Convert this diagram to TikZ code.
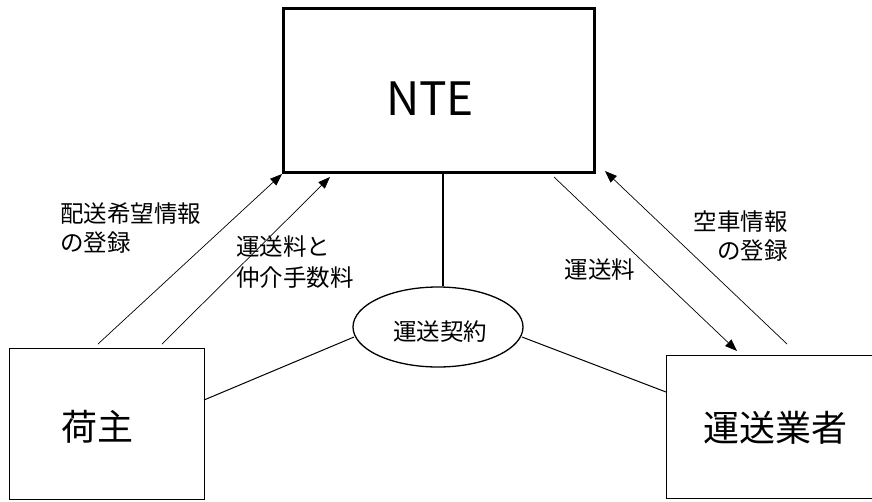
\documentclass[tikz,border=0pt]{standalone}
\usepackage{fontspec}
\setmainfont{Noto Sans CJK JP}
\usetikzlibrary{arrows.meta,shapes.geometric}
\begin{document}
\begin{tikzpicture}[x=1pt,y=-1pt,
  box/.style={draw,line width=1.3pt,inner sep=0pt,anchor=north west},
  flow/.style={line width=0.7pt,-{Triangle[length=12pt,width=9pt]}},
  link/.style={line width=1pt},
  lbl/.style={inner sep=0pt,font=\fontsize{23.5pt}{29pt}\selectfont},
  big/.style={inner sep=0pt,font=\fontsize{36pt}{40pt}\selectfont}]
\useasboundingbox (0,0) rectangle (872,501);
% boxes
\node[box,line width=3pt,minimum width=311pt,minimum height=164pt] (nte) at (282,7) {};
\node[inner sep=0pt,font=\fontsize{46pt}{50pt}\selectfont] (ntetext) at (430,99) {NTE};
\node[box,minimum width=195pt,minimum height=151pt] (ninushi) at (9,348) {};
\node[big] (ninushitext) at (97,427) {荷主};
\node[box,minimum width=215pt,minimum height=143pt] (gyosha) at (666,355) {};
\node[big] (gyoshatext) at (775,428) {運送業者};
\node[draw,ellipse,line width=1.3pt,minimum width=170pt,minimum height=80pt,inner sep=0pt] (keiyaku) at (438,327) {};
\node[lbl] (keiyakutext) at (440,332) {運送契約};
% coordinates
\coordinate (a1s) at (98,344);
\coordinate (a2s) at (162,344);
\coordinate (a2e) at (330,177);
\coordinate (a3s) at (554,177);
\coordinate (a3e) at (737,351);
\coordinate (a4s) at (787,344);
\coordinate (a4e) at (605,171);
\coordinate (ctop) at (443,171);
\coordinate (lnin) at (204,400);
\coordinate (lkl) at (354,337);
\coordinate (lkr) at (522,337);
\coordinate (lgy) at (666,392);
% connectors
\draw[flow] (a1s) -- (nte.south west);
\draw[flow] (a2s) -- (a2e);
\draw[flow] (a3s) -- (a3e);
\draw[flow] (a4s) -- (a4e);
\draw[line width=2.2pt] (ctop) -- (keiyaku.north -| ctop);
\draw[link] (lnin) -- (lkl);
\draw[link] (lkr) -- (lgy);
% labels
\node[lbl,align=left,anchor=west] (l1) at (60,228) {配送希望情報\\の登録};
\node[lbl,align=left,anchor=west,font=\fontsize{23.5pt}{31pt}\selectfont] (l2) at (236,262) {運送料と\\仲介手数料};
\node[lbl] (l3) at (600,270) {運送料};
\node[lbl,align=right,anchor=east] (l4) at (788,236) {空車情報\\の登録};
\end{tikzpicture}
\end{document}
